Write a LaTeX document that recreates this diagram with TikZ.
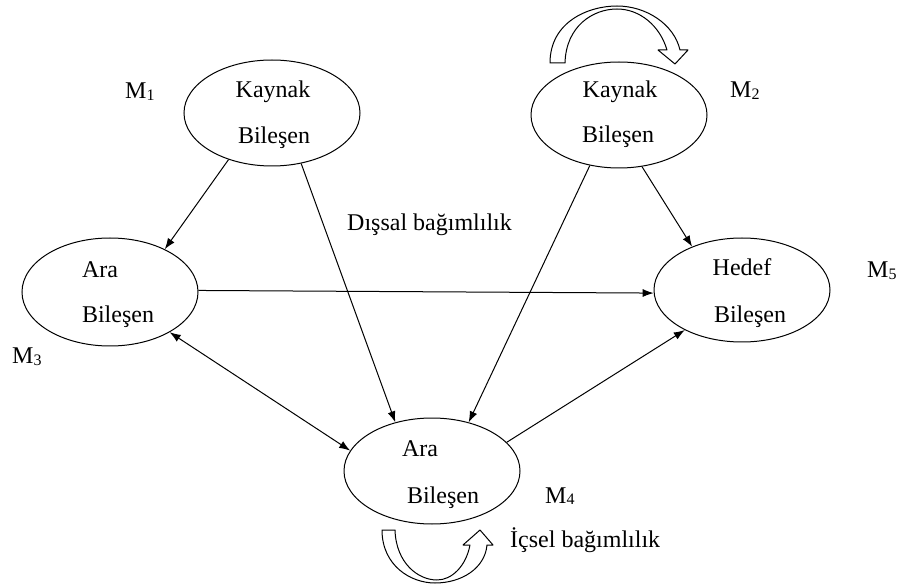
\documentclass[tikz,border=0pt]{standalone}
\usepackage{fontspec}
\setmainfont{Liberation Serif}
\usetikzlibrary{shapes.geometric,arrows.meta}
\newcommand{\Msub}[1]{M{\fontsize{16}{16}\selectfont\raisebox{-1.5pt}{#1}}}
\begin{document}
\begin{tikzpicture}[x=1pt,y=-1pt,
  ell/.style={draw,ellipse,line width=1pt,minimum width=176pt,minimum height=106pt,inner sep=0pt},
  lbl/.style={anchor=base,inner sep=0pt,font=\fontsize{24}{28}\selectfont},
  lblw/.style={anchor=base west,inner sep=0pt,font=\fontsize{24}{28}\selectfont},
  conn/.style={line width=1pt,-{Latex[length=11pt,width=8pt]}},
  dconn/.style={line width=1pt,{Latex[length=11pt,width=8pt]}-{Latex[length=11pt,width=8pt]}},
  blk/.style={draw,fill=white,line width=1pt,line join=round}]
\useasboundingbox (0,0) rectangle (898,588);

% ellipses
\node[ell] (m1) at (272,113) {};
\node[ell] (m2) at (619,115) {};
\node[ell,minimum height=108pt] (m3) at (110,292) {};
\node[ell,minimum height=104pt] (m5) at (742,290) {};
\node[ell] (m4) at (432,471) {};

% texts inside ellipses
\node[lbl] (t1a) at (273,98) {Kaynak};
\node[lbl] (t1b) at (274,144) {Bileşen};
\node[lbl] (t2a) at (620,98) {Kaynak};
\node[lbl] (t2b) at (618,143) {Bileşen};
\node[lbl] (t3a) at (100,278) {Ara};
\node[lbl] (t3b) at (118,323) {Bileşen};
\node[lbl] (t5a) at (742,276) {Hedef};
\node[lbl] (t5b) at (750,323) {Bileşen};
\node[lbl] (t4a) at (420,456) {Ara};
\node[lbl] (t4b) at (443,503) {Bileşen};

% M labels
\node[lblw] (l1) at (125,99) {\Msub{1}};
\node[lblw] (l2) at (730,98) {\Msub{2}};
\node[lblw] (l3) at (12,364) {\Msub{3}};
\node[lblw] (l4) at (545,503) {\Msub{4}};
\node[lblw] (l5) at (867,278) {\Msub{5}};

% dependency labels
\node[lblw] (dis) at (347,231) {Dışsal bağımlılık};
\node[lblw] (ic) at (510,547) {İçsel bağımlılık};

% connectors
\draw[conn] (m1.227) -- (m3.38);
\draw[conn] (m1.300) -- (m4.127);
\draw[conn] (m2.240) -- (m4.53);
\draw[conn] (m2.294) -- (m5.139);
\draw[conn] (m3.1) -- (m5.182);
\draw[dconn] (m3.326) -- (m4.166);
\draw[conn] (m4.21) -- (m5.215);

% top curved block arrow (self dependency of M2)
\draw[blk] (550,63) .. controls (550,22) and (588,6) .. (617,6)
  .. controls (646,6) and (674,24) .. (680,50) -- (688,50) -- (675,64) -- (658,50) -- (667,50)
  .. controls (660,26) and (640,9) .. (617,9)
  .. controls (593,9) and (566,26) .. (565,63) -- cycle;

% bottom curved block arrow (internal dependency)
\draw[blk] (382,530) .. controls (382,565) and (410,583) .. (435,583)
  .. controls (462,583) and (485,568) .. (487,545) -- (493,545) -- (480,530) -- (463,545) -- (470,545)
  .. controls (466,566) and (452,580) .. (437,580)
  .. controls (418,580) and (396,563) .. (395,530) -- cycle;
\end{tikzpicture}
\end{document}
